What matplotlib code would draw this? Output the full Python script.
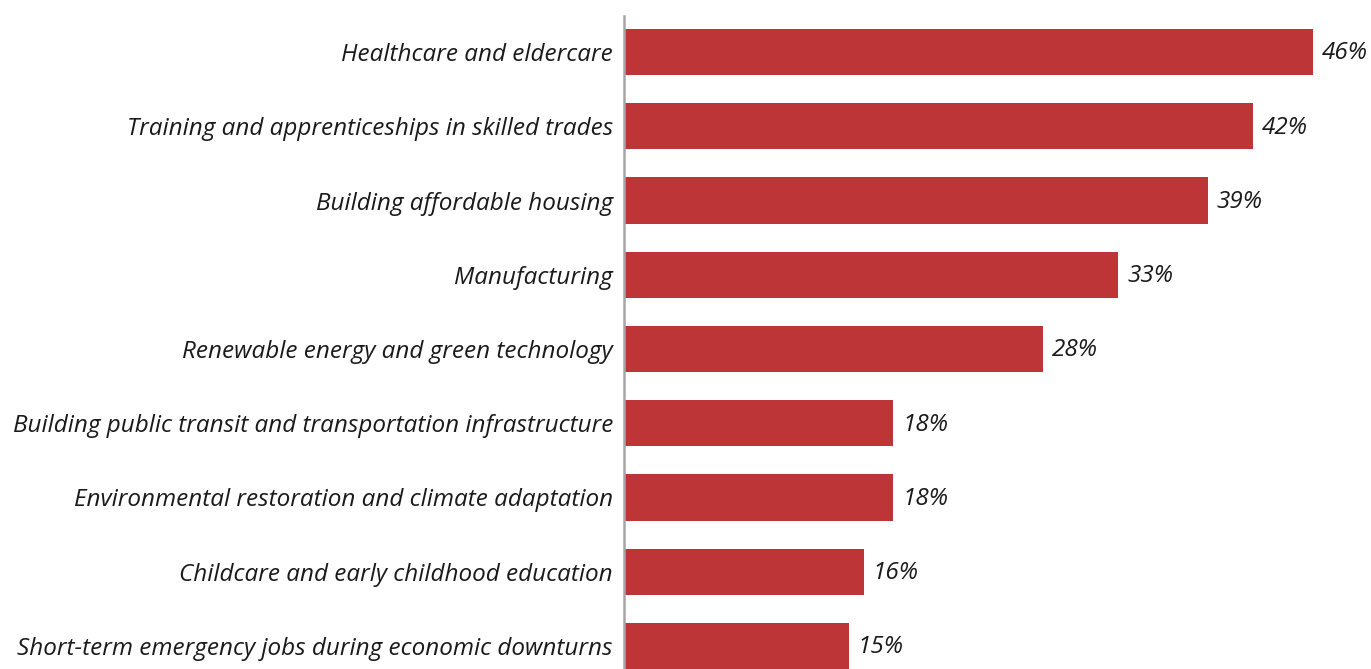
import matplotlib
matplotlib.use("Agg")
import matplotlib.pyplot as plt

categories = [
    "Healthcare and eldercare",
    "Training and apprenticeships in skilled trades",
    "Building affordable housing",
    "Manufacturing",
    "Renewable energy and green technology",
    "Building public transit and transportation infrastructure",
    "Environmental restoration and climate adaptation",
    "Childcare and early childhood education",
    "Short-term emergency jobs during economic downturns",
]
values = [46, 42, 39, 33, 28, 18, 18, 16, 15]

bar_color = "#BE3538"
text_color = "#1A1A1A"

plt.rcParams["font.family"] = ["Open Sans", "DejaVu Sans"]

fig = plt.figure(figsize=(13.71, 6.69), dpi=100)
W, H = 1371, 669
left, top, bottom = 624, 16, 669
ax = fig.add_axes([left / W, 1 - bottom / H, (W - left) / W, (bottom - top) / H])

ypos = list(range(len(categories)))
ax.barh(ypos, values, height=0.62, color=bar_color, zorder=2)

ax.set_xlim(0, 49.9)
ax.set_ylim(8.31, -0.485)

ax.set_yticks(ypos)
ax.set_yticklabels(categories, fontsize=17.5, style="italic", color=text_color)
ax.tick_params(axis="y", length=0, pad=8)
ax.set_xticks([])

for s in ["top", "right", "bottom"]:
    ax.spines[s].set_visible(False)
ax.spines["left"].set_color("#A6A6A6")
ax.spines["left"].set_linewidth(1.8)
ax.spines["left"].set_zorder(3)

for y, v in zip(ypos, values):
    ax.text(v + 0.6, y + 0.02, f"{v}%", va="center", ha="left", fontsize=17.5,
            style="italic", color=text_color)

fig.savefig("out.png", dpi=100)
